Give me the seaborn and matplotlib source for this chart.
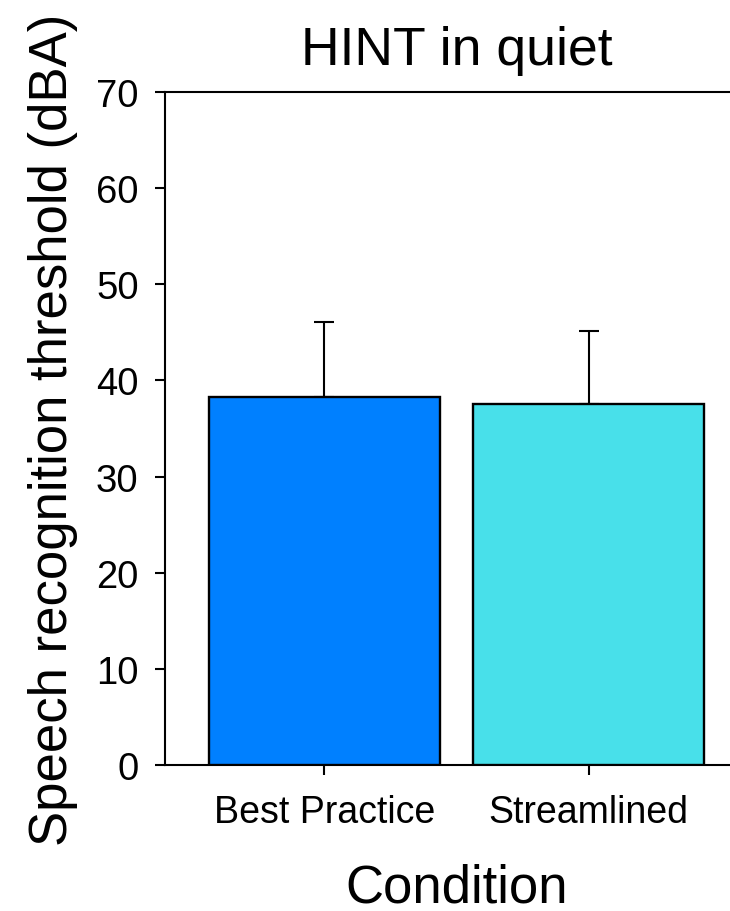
import matplotlib
matplotlib.use("Agg")
import matplotlib.pyplot as plt
import seaborn as sns
import pandas as pd
import numpy as np

# Mean speech recognition thresholds and their upper SD
conditions = ["Best Practice", "Streamlined"]
means = [38.3, 37.55]
sd_upper = [7.8, 7.6]
bar_colors = ["#0080FF", "#48E0EA"]

y_ticks = [0, 10, 20, 30, 40, 50, 60, 70]

sns.set_style("ticks")
plt.rcParams["font.family"] = ["Liberation Sans", "DejaVu Sans"]
plt.rcParams["text.color"] = "black"
plt.rcParams["axes.labelcolor"] = "black"
plt.rcParams["xtick.color"] = "black"
plt.rcParams["ytick.color"] = "black"

df = pd.DataFrame({"Condition": conditions, "SRT": means})

fig = plt.figure(figsize=(7.3, 9.12), dpi=100)
ax = fig.add_axes([165 / 730, 146 / 912, 583 / 730, 673 / 912])

sns.barplot(data=df, x="Condition", y="SRT", hue="Condition",
            palette=bar_colors, width=0.875, errorbar=None,
            edgecolor="black", linewidth=1.7, legend=False,
            saturation=1, ax=ax, zorder=3)

# upper-only error bars
xpos = np.arange(len(conditions))
ax.errorbar(xpos, means, yerr=[np.zeros(len(means)), sd_upper],
            fmt="none", ecolor="black", elinewidth=1.5, capsize=7.5,
            capthick=1.5, zorder=2)

ax.set_xlim(-0.604, 1.604)
ax.set_ylim(0, 70)
ax.set_yticks(y_ticks)
ax.set_yticklabels([str(t) for t in y_ticks])

for side in ["top", "left", "bottom"]:
    ax.spines[side].set_linewidth(1.5)
    ax.spines[side].set_color("black")
ax.spines["right"].set_visible(False)
ax.spines["top"].set_visible(True)

ax.tick_params(axis="both", direction="out", length=7, width=1.5,
               color="black", labelcolor="black")
ax.tick_params(axis="y", labelsize=27.5, pad=12)
ax.tick_params(axis="x", labelsize=27, pad=14)

ax.set_xlabel("Condition", fontsize=38, labelpad=23, color="black")
ax.set_ylabel("Speech recognition threshold (dBA)", fontsize=38,
              labelpad=13, color="black")
ax.set_title("HINT in quiet", fontsize=38.5, pad=20, color="black")

fig.savefig("out.png", dpi=100)
